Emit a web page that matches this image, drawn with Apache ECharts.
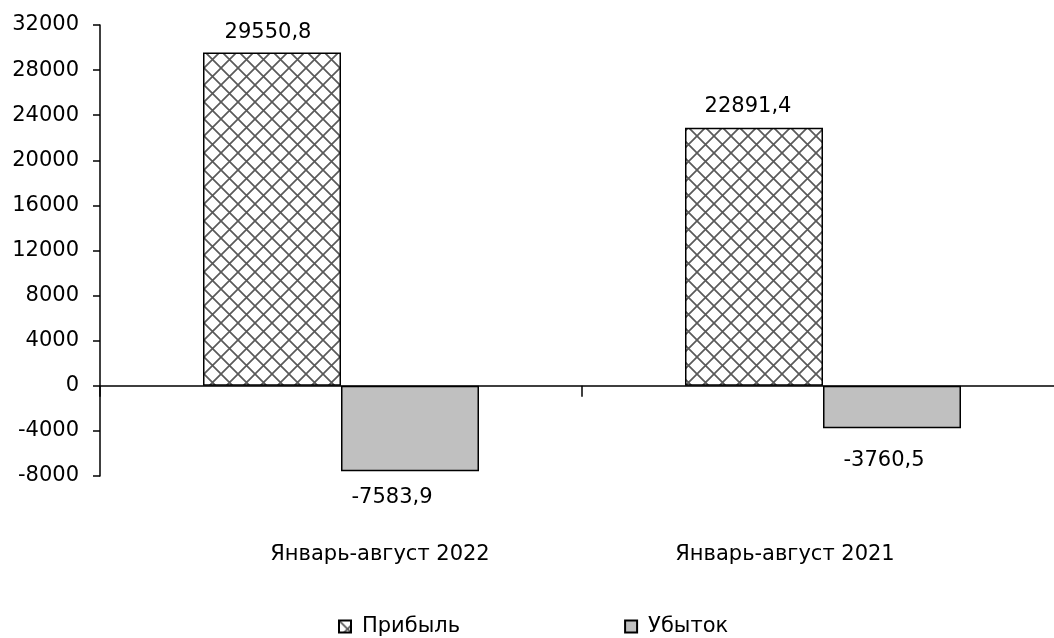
<!DOCTYPE html>
<html>
<head>
<meta charset="utf-8">
<script src="https://cdn.jsdelivr.net/npm/echarts@6/dist/echarts.min.js"></script>
<style>
html,body{margin:0;padding:0;background:#fff;overflow:hidden;width:1054px;height:638px;}
#chart{width:1064px;height:638px;}
</style>
</head>
<body>
<div id="chart"></div>
<script>
const categories = ['Январь-август 2022', 'Январь-август 2021'];
const seriesNames = ['Прибыль', 'Убыток'];
const profit = [29550.8, 22891.4];
const loss = [-7583.9, -3760.5];
const yMin = -8000, yMax = 32000, yStep = 4000;

// label nudges (layout only)
const profitLabelOffset = [[-4, 2], [-6, 1]];
const lossLabelOffset = [[-18, 3], [-8, 9]];

const FONT = 'DejaVu Sans';

function makePattern() {
  const s = 17;
  const c = document.createElement('canvas');
  c.width = s; c.height = s;
  const g = c.getContext('2d');
  g.fillStyle = '#ffffff';
  g.fillRect(0, 0, s, s);
  g.strokeStyle = '#5a5a5a';
  g.lineWidth = 1.7;
  g.beginPath();
  g.moveTo(-1, -1); g.lineTo(s + 1, s + 1);
  g.moveTo(s + 1, -1); g.lineTo(-1, s + 1);
  g.stroke();
  return c;
}
const pattern = { image: makePattern(), repeat: 'repeat' };

const fmt = p => p.value.toFixed(1).replace('.', ',');

const chart = echarts.init(document.getElementById('chart'), null, { renderer: 'canvas' });
chart.setOption({
  animation: false,
  backgroundColor: '#ffffff',
  textStyle: { fontFamily: FONT, color: '#000' },
  legend: {
    left: 338, top: 616, padding: 0,
    icon: 'rect',
    itemWidth: 12, itemHeight: 12, itemGap: 164,
    textStyle: { fontFamily: FONT, fontSize: 21, color: '#000', padding: [0, 0, 0, 6] },
    data: seriesNames
  },
  grid: [
    { left: 100, top: 25, right: 0, height: 451 },
    { left: 177.5, top: 25, width: 810, height: 451 }
  ],
  xAxis: [
    {
      gridIndex: 0, type: 'category', data: categories,
      axisLine: { onZero: true, lineStyle: { color: '#000', width: 1.5 } },
      axisTick: { show: true, length: 11, lineStyle: { color: '#000', width: 1.5 } },
      axisLabel: { show: false }
    },
    {
      gridIndex: 1, type: 'category', data: categories, position: 'bottom',
      axisLine: { show: false }, axisTick: { show: false },
      axisLabel: { margin: 68, fontFamily: FONT, fontSize: 21, color: '#000' }
    }
  ],
  yAxis: [
    {
      gridIndex: 0, type: 'value', min: yMin, max: yMax, interval: yStep,
      axisLine: { show: true, lineStyle: { color: '#000', width: 1.5 } },
      axisTick: { show: true, length: 7, lineStyle: { color: '#000', width: 1.5 } },
      splitLine: { show: false },
      axisLabel: { margin: 21, fontFamily: FONT, fontSize: 21, color: '#000', padding: [4, 0, 0, 0], formatter: v => String(v) }
    },
    { gridIndex: 1, type: 'value', show: false, min: yMin, max: yMax }
  ],
  series: [
    {
      name: seriesNames[0], type: 'bar', xAxisIndex: 0, yAxisIndex: 0,
      barWidth: 138, barGap: '0%',
      itemStyle: { color: pattern, borderColor: '#000', borderWidth: 1.5 },
      label: { show: true, position: 'top', distance: 12, fontFamily: FONT, fontSize: 21, color: '#000', formatter: fmt },
      data: profit.map((v, i) => ({ value: v, label: { offset: profitLabelOffset[i] } }))
    },
    {
      name: seriesNames[1], type: 'bar', xAxisIndex: 0, yAxisIndex: 0,
      barWidth: 138, barGap: '0%',
      itemStyle: { color: '#c0c0c0', borderColor: '#000', borderWidth: 1.5 },
      label: { show: true, position: 'bottom', distance: 13, fontFamily: FONT, fontSize: 21, color: '#000', formatter: fmt },
      data: loss.map((v, i) => ({ value: v, label: { offset: lossLabelOffset[i] } }))
    }
  ]
});
</script>
</body>
</html>
